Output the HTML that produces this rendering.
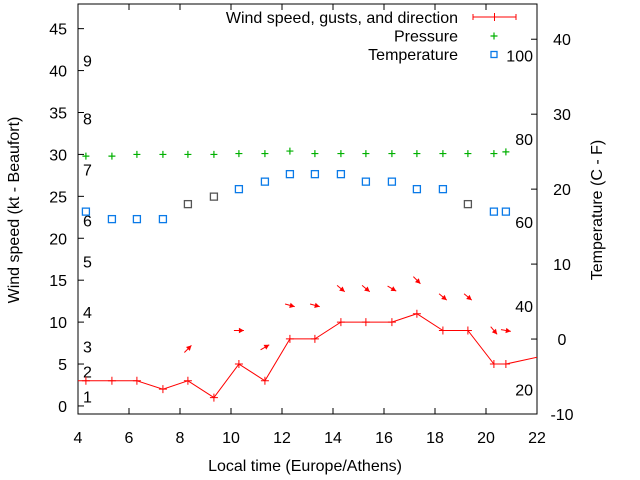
<!DOCTYPE html>
<html><head><meta charset="utf-8">
<style>
html,body{margin:0;padding:0;background:#fff;}
svg{display:block;font-family:"Liberation Sans",sans-serif;}
</style></head>
<body>
<svg id="chart" width="640" height="480" viewBox="0 0 640 480" xmlns="http://www.w3.org/2000/svg"></svg>
<script>
const times=[4.31,5.33,6.31,7.33,8.31,9.33,10.31,11.33,12.31,13.29,14.31,15.29,16.31,17.29,18.31,19.29,20.31,20.78];
const windLineTimes=[3.5].concat(times,[22.3]);
const windLineVals=[3,3,3,3,2,3,1,5,3,8,8,10,10,10,11,9,9,5,5,6];
const pressureVals=[29.8,29.8,30,30,30,30,30.1,30.1,30.4,30.1,30.1,30.1,30.1,30.1,30.1,30.1,30.1,30.3];
const tempVals=[17,16,16,16,18,19,20,21,22,22,22,21,21,20,20,18,17,17];
const tempGrey=[false,false,false,false,true,true,false,false,false,false,false,false,false,false,false,true,false,false];
const arrowTimes=[8.31,10.31,11.33,12.31,13.29,14.31,15.29,16.31,17.29,18.31,19.29,20.31,20.78];
const arrowVals=[6.8,9,7,12,12,14,14,14,15,13,13,9,9];
const arrowAngles=[45,0,30,-15,-15,-40,-40,-30,-45,-40,-40,-50,-10];
const xTicks=[4,6,8,10,12,14,16,18,20,22];
const yTicks=[0,5,10,15,20,25,30,35,40,45];
const y2Ticks=[-10,0,10,20,30,40];
const beaufortLabels=["1","2","3","4","5","6","7","8","9"];
const beaufortVals=[1.1,4.1,7.1,11.2,17.2,22.1,28.2,34.3,41.2];
const fahrLabels=["20","40","60","80","100"];
const fahrC=[-6.7,4.4,15.6,26.7,37.8];

const FS=16;
const L=78,R=537,T=4,B=414;
const X=v=>L+(v-4)*(R-L)/18;
const Y=v=>B-(v+0.96)*(B-T)/48.9;
const Y2=v=>B-(v+10)*(B-T)/54.7;
const svg=document.getElementById('chart');
const NS='http://www.w3.org/2000/svg';
function mk(tag,attrs,parent){const e=document.createElementNS(NS,tag);for(const k in attrs)e.setAttribute(k,attrs[k]);(parent||svg).appendChild(e);return e;}

const defs=mk('defs',{});
const cp=mk('clipPath',{id:'pc'},defs);
mk('rect',{x:L,y:T,width:R-L,height:B-T},cp);

xTicks.forEach(t=>{
  let l=mk('line',{x1:X(t),x2:X(t),y1:B,y2:B-6,stroke:'#000'});
  
  
  let l2=mk('line',{x1:X(t),x2:X(t),y1:T,y2:T+6,stroke:'#000'});
  
  
  let tx=mk('text',{x:X(t),y:B+29,'font-size':FS,'text-anchor':'middle',fill:'#000'});
  tx.textContent=t;
  
  
});
yTicks.forEach(t=>{
  let l=mk('line',{x1:L,x2:L+6,y1:Y(t),y2:Y(t),stroke:'#000'});
  
  
  let tx=mk('text',{x:L-11,y:Y(t)+6,'font-size':FS,'text-anchor':'end',fill:'#000'});
  tx.textContent=t;
  
  
});
y2Ticks.forEach(t=>{
  let l=mk('line',{x1:R-6,x2:R,y1:Y2(t),y2:Y2(t),stroke:'#000'});
  
  
  let tx=mk('text',{x:R+25,y:Y2(t)+6,'font-size':FS,'text-anchor':'middle',fill:'#000'});
  tx.textContent=t;
  
  
});
beaufortLabels.forEach((s,i)=>{
  let tx=mk('text',{x:83,y:Y(beaufortVals[i])+6,'font-size':FS,fill:'#000'});
  tx.textContent=s;
  
  
});
fahrLabels.forEach((s,i)=>{
  let tx=mk('text',{x:533,y:Y2(fahrC[i])+6,'font-size':FS,'text-anchor':'end',fill:'#000'});
  tx.textContent=s;
  
  
});

const frame=mk('rect',{x:L,y:T,width:R-L,height:B-T,fill:'none',stroke:'#000'});



const g=mk('g',{'clip-path':'url(#pc)'});
tempVals.forEach((v,i)=>{
  let r=mk('rect',{x:X(times[i])-3.5,y:Y2(v)-3.5,width:7,height:7,fill:'none',stroke:tempGrey[i]?'#555':'#0a7ae8','stroke-width':1.3},g);
  
  
});
pressureVals.forEach((v,i)=>{
  let p=mk('path',{d:`M${X(times[i])-3.5},${Y(v)}h7M${X(times[i])},${Y(v)-3.5}v7`,stroke:'#00b000','stroke-width':1.2},g);
  
  
});
const wl=mk('polyline',{points:windLineTimes.map((t,i)=>X(t)+','+Y(windLineVals[i])).join(' '),fill:'none',stroke:'#f00','stroke-width':1},g);


windLineTimes.forEach((t,i)=>{
  let p=mk('path',{d:`M${X(t)-4},${Y(windLineVals[i])}h8M${X(t)},${Y(windLineVals[i])-4}v8`,stroke:'#f00','stroke-width':1},g);
  
  
});
arrowTimes.forEach((t,i)=>{
  const a=arrowAngles[i]*Math.PI/180,len=10;
  const cx=X(t),cy=Y(arrowVals[i]);
  const dx=Math.cos(a)*len/2,dy=-Math.sin(a)*len/2;
  const x1=cx-dx,y1=cy-dy,x2=cx+dx,y2=cy+dy;
  const ux=dx/(len/2),uy=dy/(len/2);
  const hx=x2-ux*5,hy=y2-uy*5;
  let grp=mk('g',{},g);
  
  
  mk('line',{x1:x1,y1:y1,x2:x2,y2:y2,stroke:'#f00','stroke-width':1},grp);
  mk('polygon',{points:`${x2},${y2} ${hx-uy*2.7},${hy+ux*2.7} ${hx+uy*2.7},${hy-ux*2.7}`,fill:'#f00'},grp);
});

const lg=mk('g',{});


const legendNames=["Wind speed, gusts, and direction","Pressure","Temperature"];
legendNames.forEach((n,i)=>{
  let tx=mk('text',{x:458,y:23+i*18.5,'font-size':FS,'text-anchor':'end',fill:'#000'},lg);
  tx.textContent=n;
  
  
});
mk('path',{d:'M473,17h43M473,14v6M516,14v6M494.5,13v8',stroke:'#f00','stroke-width':1},lg);
mk('path',{d:'M490.5,36h7M494,32.5v7',stroke:'#00b000','stroke-width':1.2},lg);
mk('rect',{x:491,y:51.5,width:6,height:6,fill:'none',stroke:'#0a7ae8','stroke-width':1.3},lg);

let xt=mk('text',{x:305,y:471,'font-size':FS,'text-anchor':'middle',fill:'#000'});
xt.textContent='Local time (Europe/Athens)';


let yt=mk('text',{x:0,y:0,'font-size':FS,'text-anchor':'middle',fill:'#000',transform:'translate(19,210) rotate(-90)'});
yt.textContent='Wind speed (kt - Beaufort)';


let y2t=mk('text',{x:0,y:0,'font-size':FS,'text-anchor':'middle',fill:'#000',transform:'translate(602,210) rotate(-90)'});
y2t.textContent='Temperature (C - F)';


</script>
</body></html>
